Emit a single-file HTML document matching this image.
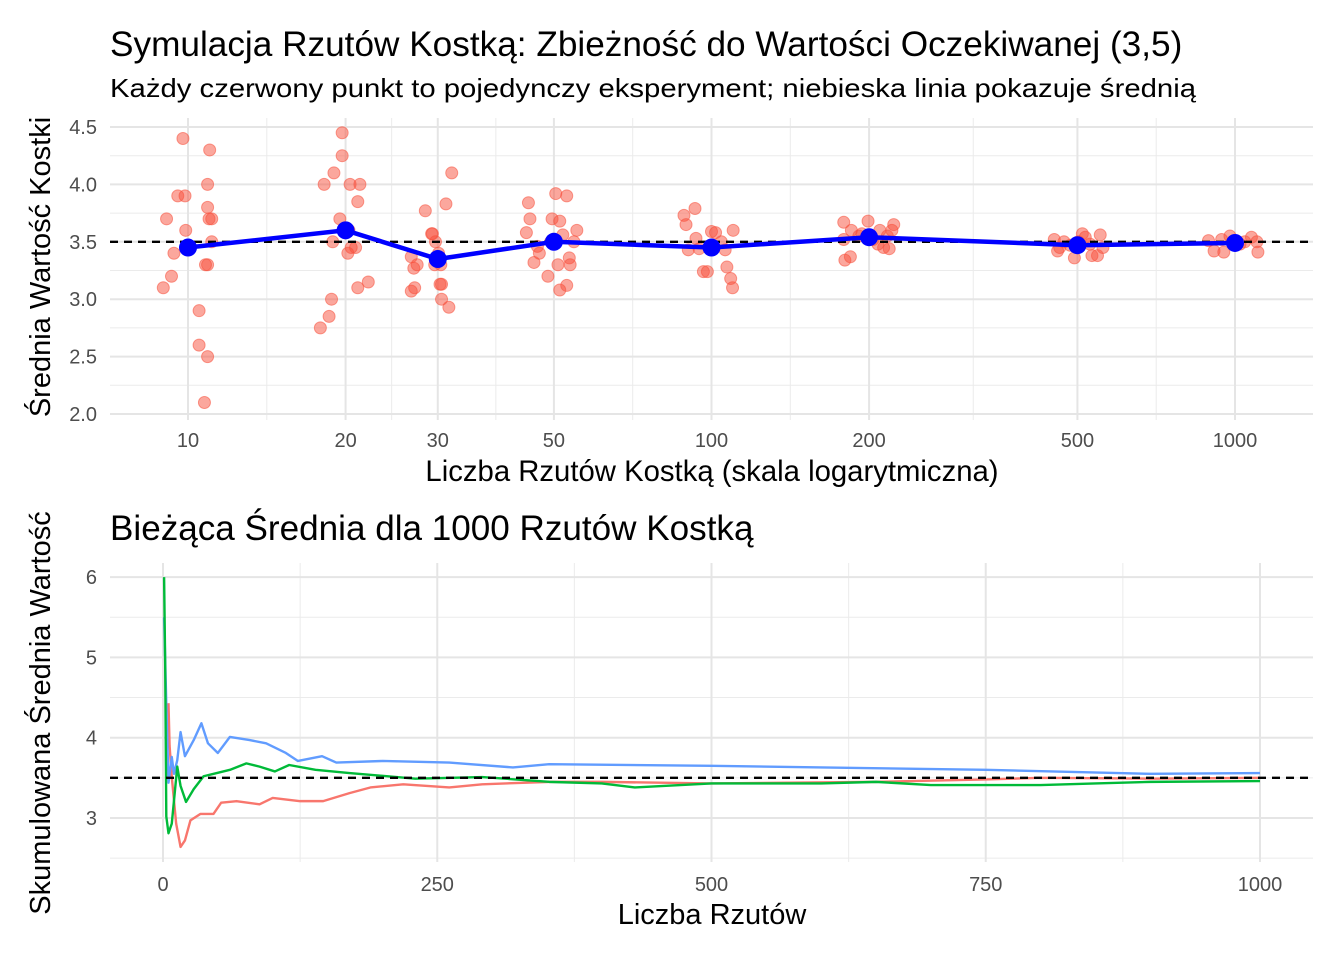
<!DOCTYPE html>
<html><head><meta charset="utf-8">
<style>
body{margin:0;background:#fff;}
svg text{font-family:"Liberation Sans",Arial,sans-serif;}
</style></head>
<body>
<svg id="chart" width="1344" height="960" xmlns="http://www.w3.org/2000/svg">
<text x="110" y="56" font-size="35.2" fill="#000">Symulacja Rzutów Kostką: Zbieżność do Wartości Oczekiwanej (3,5)</text>
<text x="110" y="97" font-size="26" fill="#000" textLength="1086" lengthAdjust="spacingAndGlyphs">Każdy czerwony punkt to pojedynczy eksperyment; niebieska linia pokazuje średnią</text>
<g id="topPanel"></g>
<text x="712" y="481" font-size="29.3" text-anchor="middle">Liczba Rzutów Kostką (skala logarytmiczna)</text>
<text transform="translate(50,267) rotate(-90)" font-size="29" text-anchor="middle">Średnia Wartość Kostki</text>
<text x="110" y="540" font-size="35.1">Bieżąca Średnia dla 1000 Rzutów Kostką</text>
<g id="botPanel"></g>
<text x="712" y="924" font-size="29" text-anchor="middle">Liczba Rzutów</text>
<text transform="translate(50,713) rotate(-90)" font-size="29" text-anchor="middle">Skumulowana Średnia Wartość</text>
</svg>
<script>
// ---- top chart data ----
const topTicksX = [10,20,30,50,100,200,500,1000];
const topTicksY = [2.0,2.5,3.0,3.5,4.0,4.5];
const topTickLabelsY = ["2.0","2.5","3.0","3.5","4.0","4.5"];
const expectedValue = 3.5;
const meanN = [10,20,30,50,100,200,500,1000];
const meanVal = [3.45,3.6,3.35,3.5,3.45,3.54,3.47,3.49];
const trialN = [9.78,11.0,9.56,9.87,10.9,9.1,10.9,10.97,11.1,9.4,9.9,11.1,9.3,8.97,10.5,10.5,10.9,10.75,10.8,10.9,
 19.7,19.7,19.0,18.2,20.4,21.3,21.1,19.5,20.3,18.9,20.5,20.9,21.1,22.1,18.8,18.6,17.9,20.2,
 31.9,31.1,28.4,29.2,29.3,26.7,27.0,27.4,29.6,30.4,30.1,30.3,30.5,26.7,27.1,30.5,31.5,29.7,
 44.7,50.4,52.9,45.0,49.6,51.3,55.3,44.3,52.0,54.6,46.5,53.5,46.9,53.7,45.8,50.9,48.7,52.9,51.3,49.3,
 93,88.6,89.4,100,101.8,110,93.4,90.3,94.7,104.4,106.2,96.5,98.2,107,108.8,109.7,
 178.9,199.1,222.9,185,209.7,193.8,216.7,178.9,203.5,213.2,207.9,218.5,184.2,179.8,191.2,221.1,
 451.6,511,552.8,462.6,502.2,528.6,458.2,493.4,533,546.2,559.4,471.4,517.6,484.6,
 890,978,1075,912,952,1044,1101,1106,1022,943];
const trialVal = [4.4,4.3,3.9,3.9,4.0,3.7,3.8,3.7,3.7,3.4,3.6,3.5,3.2,3.1,2.9,2.6,2.5,2.1,3.3,3.3,
 4.45,4.25,4.1,4.0,4.0,4.0,3.85,3.7,3.6,3.5,3.45,3.45,3.1,3.15,3.0,2.85,2.75,3.4,
 4.1,3.83,3.77,3.57,3.57,3.37,3.27,3.3,3.3,3.3,3.4,3.13,3.13,3.07,3.1,3.0,2.93,3.5,
 3.84,3.92,3.9,3.7,3.7,3.68,3.6,3.58,3.56,3.5,3.46,3.36,3.4,3.3,3.32,3.3,3.2,3.12,3.08,3.5,
 3.79,3.73,3.65,3.59,3.58,3.6,3.53,3.43,3.44,3.5,3.43,3.24,3.24,3.28,3.18,3.1,
 3.67,3.68,3.65,3.6,3.6,3.57,3.55,3.52,3.52,3.45,3.48,3.44,3.37,3.34,3.55,3.6,
 3.52,3.57,3.56,3.45,3.5,3.48,3.42,3.36,3.38,3.38,3.45,3.5,3.54,3.47,
 3.51,3.55,3.54,3.42,3.41,3.5,3.5,3.41,3.48,3.52];
// ---- bottom chart data ----
const botTicksX = [0,250,500,750,1000];
const botTicksY = [3,4,5,6];
const redN = [5,6,8,12,16,20,25,34,46,53,67,88,100,125,146,170,189,219,261,291,352,400,500,650,750,800,900,1000];
const redV = [4.43,3.9,3.51,2.93,2.64,2.72,2.97,3.05,3.05,3.19,3.21,3.17,3.25,3.21,3.21,3.31,3.38,3.42,3.38,3.42,3.45,3.45,3.43,3.45,3.48,3.5,3.49,3.5];
const greenN = [1,2,3,5,8,13,16,21,28,37,49,61,76,88,102,115,139,170,230,291,352,400,430,500,600,650,700,800,850,900,1000];
const greenV = [6.0,4.9,3.02,2.81,2.93,3.64,3.4,3.2,3.36,3.52,3.56,3.6,3.68,3.64,3.58,3.66,3.6,3.56,3.49,3.51,3.45,3.43,3.38,3.43,3.43,3.45,3.41,3.41,3.43,3.45,3.46];
const blueN = [1,3,5,8,10,13,16,20,28,35,41,50,61,79,94,112,123,145,158,200,261,319,352,500,750,900,1000];
const blueV = [5.5,4.43,3.44,3.76,3.55,3.72,4.07,3.77,3.97,4.18,3.93,3.81,4.01,3.97,3.93,3.81,3.71,3.77,3.69,3.71,3.69,3.63,3.67,3.65,3.6,3.55,3.56];

const NS='http://www.w3.org/2000/svg';
function mk(parent,tag,attrs){const e=document.createElementNS(NS,tag);for(const k in attrs)e.setAttribute(k,attrs[k]);parent.appendChild(e);return e;}

// top axes
const tx = n => 188 + (Math.log10(n)-1)*523.5;
const ty = v => 414 - (v-2)*114.8;
const topG = document.getElementById('topPanel');
const tL=110,tR=1313,tT=118,tB=420;
for(let v=2.25; v<=4.6; v+=0.5){const l=mk(topG,'line',{x1:tL,x2:tR,y1:ty(v),y2:ty(v),stroke:'#ebebeb','stroke-width':1});

}
for(let i=0;i<topTicksX.length-1;i++){const m=(tx(topTicksX[i])+tx(topTicksX[i+1]))/2;const l=mk(topG,'line',{x1:m,x2:m,y1:tT,y2:tB,stroke:'#ebebeb','stroke-width':1});

}
topTicksY.forEach((v,i)=>{const l=mk(topG,'line',{x1:tL,x2:tR,y1:ty(v),y2:ty(v),stroke:'#e5e5e5','stroke-width':2});


const t=mk(topG,'text',{x:97,y:ty(v)+7,'font-size':20,fill:'#4d4d4d','text-anchor':'end'});t.textContent=topTickLabelsY[i];

});
topTicksX.forEach(n=>{const l=mk(topG,'line',{x1:tx(n),x2:tx(n),y1:tT,y2:tB,stroke:'#e5e5e5','stroke-width':2});


const t=mk(topG,'text',{x:tx(n),y:447,'font-size':20,fill:'#4d4d4d','text-anchor':'middle'});t.textContent=String(n);

});
trialN.forEach((n,i)=>{const c=mk(topG,'circle',{cx:tx(n),cy:ty(trialVal[i]),r:6,fill:'rgba(248,80,60,0.5)',stroke:'rgba(248,80,60,0.55)','stroke-width':1});

});
const ev=mk(topG,'line',{x1:tL,x2:tR,y1:ty(expectedValue),y2:ty(expectedValue),stroke:'#000','stroke-width':2.4,'stroke-dasharray':'8,6'});


const ml=mk(topG,'polyline',{points:meanN.map((n,i)=>tx(n)+','+ty(meanVal[i])).join(' '),fill:'none',stroke:'#0000ff','stroke-width':4.5});


meanN.forEach((n,i)=>{const c=mk(topG,'circle',{cx:tx(n),cy:ty(meanVal[i]),r:9,fill:'#0000ff'});

});

// bottom axes
const bx = n => 163 + n*1.097;
const by = v => 818 - (v-3)*80.3;
const botG = document.getElementById('botPanel');
const bL=110,bR=1313,bT=563,bB=862;
for(let v=2.5; v<=6; v+=1){const l=mk(botG,'line',{x1:bL,x2:bR,y1:by(v),y2:by(v),stroke:'#ebebeb','stroke-width':1});

}
[125,375,625,875].forEach(n=>{const l=mk(botG,'line',{x1:bx(n),x2:bx(n),y1:bT,y2:bB,stroke:'#ebebeb','stroke-width':1});

});
botTicksY.forEach(v=>{const l=mk(botG,'line',{x1:bL,x2:bR,y1:by(v),y2:by(v),stroke:'#e5e5e5','stroke-width':2});


const t=mk(botG,'text',{x:97,y:by(v)+7,'font-size':20,fill:'#4d4d4d','text-anchor':'end'});t.textContent=String(v);

});
botTicksX.forEach(n=>{const l=mk(botG,'line',{x1:bx(n),x2:bx(n),y1:bT,y2:bB,stroke:'#e5e5e5','stroke-width':2});


const t=mk(botG,'text',{x:bx(n),y:891,'font-size':20,fill:'#4d4d4d','text-anchor':'middle'});t.textContent=String(n);

});
function series(N,V,col,name){const p=mk(botG,'polyline',{points:N.map((n,i)=>bx(n)+','+by(V[i])).join(' '),fill:'none',stroke:col,'stroke-width':2.4,'stroke-linejoin':'round'});

}
series(redN,redV,'#F8766D','running-mean-red');
series(blueN,blueV,'#619CFF','running-mean-blue');
series(greenN,greenV,'#00BA38','running-mean-green');
const ev2=mk(botG,'line',{x1:bL,x2:bR,y1:by(expectedValue),y2:by(expectedValue),stroke:'#000','stroke-width':2.4,'stroke-dasharray':'8,6'});


</script>
</body></html>
